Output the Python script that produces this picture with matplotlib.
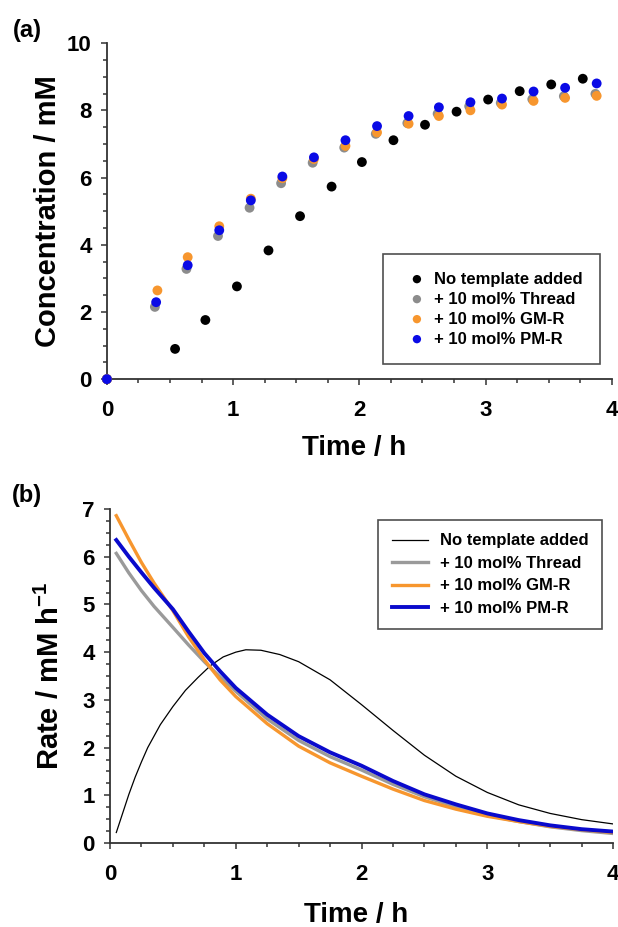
import matplotlib
matplotlib.use("Agg")
import matplotlib.pyplot as plt
from matplotlib.ticker import MultipleLocator

plt.rcParams['font.family'] = ['Liberation Sans', 'DejaVu Sans']
plt.rcParams['font.weight'] = 'bold'
plt.rcParams['mathtext.fontset'] = 'custom'
plt.rcParams['mathtext.rm'] = 'Liberation Sans:bold'
plt.rcParams['mathtext.bf'] = 'Liberation Sans:bold'
plt.rcParams['mathtext.default'] = 'bf'

labels = ['No template added', '+ 10 mol% Thread', '+ 10 mol% GM-R', '+ 10 mol% PM-R']
colors = ['black', '#8c8c8c', '#f7962e', '#0a0ae6']

# (a) concentration vs time
t_none = [0, 0.54, 0.78, 1.03, 1.28, 1.53, 1.78, 2.02, 2.27, 2.52, 2.77, 3.02, 3.27, 3.52, 3.77]
c_none = [0, 0.90, 1.76, 2.76, 3.83, 4.85, 5.73, 6.46, 7.11, 7.57, 7.96, 8.32, 8.57, 8.77, 8.94]
t_thread = [0, 0.38, 0.63, 0.88, 1.13, 1.38, 1.63, 1.88, 2.13, 2.38, 2.62, 2.87, 3.12, 3.37, 3.62, 3.87]
c_thread = [0, 2.15, 3.28, 4.26, 5.10, 5.83, 6.44, 6.89, 7.30, 7.62, 7.90, 8.12, 8.22, 8.33, 8.42, 8.49]
t_gmr = [0, 0.40, 0.64, 0.89, 1.14, 1.39, 1.64, 1.89, 2.14, 2.39, 2.63, 2.88, 3.13, 3.38, 3.63, 3.88]
c_gmr = [0, 2.64, 3.63, 4.55, 5.37, 5.98, 6.55, 6.94, 7.34, 7.60, 7.83, 8.00, 8.17, 8.28, 8.37, 8.43]
t_pmr = [0, 0.39, 0.64, 0.89, 1.14, 1.39, 1.64, 1.89, 2.14, 2.39, 2.63, 2.88, 3.13, 3.38, 3.63, 3.88]
c_pmr = [0, 2.29, 3.39, 4.43, 5.32, 6.03, 6.60, 7.11, 7.53, 7.83, 8.09, 8.24, 8.35, 8.56, 8.67, 8.80]

# (b) rate vs time
tr_none = [0.05, 0.1, 0.15, 0.2, 0.25, 0.3, 0.4, 0.5, 0.6, 0.7, 0.8, 0.9, 1.0, 1.08, 1.2, 1.35,
           1.5, 1.75, 2.0, 2.25, 2.5, 2.75, 3.0, 3.25, 3.5, 3.75, 4.0]
r_none = [0.22, 0.62, 1.02, 1.38, 1.70, 2.00, 2.48, 2.86, 3.20, 3.47, 3.72, 3.90, 4.00, 4.05, 4.04, 3.95,
          3.80, 3.42, 2.90, 2.36, 1.84, 1.40, 1.06, 0.80, 0.62, 0.49, 0.40]
tr = [0.05, 0.15, 0.25, 0.35, 0.5, 0.625, 0.75, 0.875, 1.0, 1.25, 1.5, 1.75, 2.0, 2.25,
      2.5, 2.75, 3.0, 3.25, 3.5, 3.75, 4.0]
r_thread = [6.07, 5.66, 5.29, 4.96, 4.52, 4.15, 3.80, 3.48, 3.18, 2.60, 2.15, 1.81, 1.53, 1.23,
            0.97, 0.76, 0.58, 0.45, 0.34, 0.26, 0.20]
r_gmr = [6.86, 6.36, 5.88, 5.45, 4.87, 4.32, 3.84, 3.42, 3.07, 2.50, 2.03, 1.68, 1.40, 1.13,
         0.89, 0.71, 0.56, 0.45, 0.35, 0.28, 0.22]
r_pmr = [6.35, 6.00, 5.67, 5.35, 4.90, 4.43, 3.98, 3.60, 3.25, 2.69, 2.24, 1.90, 1.62, 1.30,
         1.02, 0.81, 0.62, 0.48, 0.37, 0.29, 0.24]

fig = plt.figure(figsize=(6.18, 9.27), dpi=100)
ax1 = fig.add_axes([0.173, 0.591, 0.817, 0.3625])
ax2 = fig.add_axes([0.178, 0.0906, 0.814, 0.3603])

for ax in (ax1, ax2):
    for side in ('top', 'right'):
        ax.spines[side].set_visible(False)
    for side in ('left', 'bottom'):
        ax.spines[side].set_linewidth(1.3)
        ax.spines[side].set_color('#333333')
    ax.tick_params(which='both', direction='out', color='#333333', width=1.1)
    ax.tick_params(which='major', length=4, labelsize=16)
    ax.tick_params(which='minor', length=3)
    ax.tick_params(axis='x', pad=11)
    ax.tick_params(axis='y', pad=7)
    ax.set_xlim(0, 4)
    ax.xaxis.set_major_locator(MultipleLocator(1))
    ax.xaxis.set_minor_locator(MultipleLocator(0.25))

# panel (a)
series_a = [(t_none, c_none), (t_thread, c_thread), (t_gmr, c_gmr), (t_pmr, c_pmr)]
for (t, c), col, lab in zip(series_a, colors, labels):
    ax1.scatter(t, c, s=50, color=col, edgecolors='none', label=lab, clip_on=False, zorder=3)
ax1.set_ylim(0, 10)
ax1.yaxis.set_major_locator(MultipleLocator(2))
ax1.yaxis.set_minor_locator(MultipleLocator(0.5))
ax1.set_ylabel('Concentration / mM', fontsize=21, fontweight='bold')
ax1.set_xlabel('Time / h', fontsize=20, fontweight='bold')
ax1.yaxis.set_label_coords(-0.117, 0.5)
ax1.xaxis.set_label_coords(0.49, -0.205)
ax1.xaxis.label.set_va('center')
ax1.yaxis.label.set_va('center')
leg1 = ax1.legend(loc='lower right', bbox_to_anchor=(0.976, 0.045), fontsize=12,
                  frameon=True, fancybox=False, borderpad=1.05, labelspacing=0.3,
                  handlelength=2.0, handletextpad=0.0, borderaxespad=0, markerscale=0.85)
leg1.get_frame().set_edgecolor('#222222')
leg1.get_frame().set_linewidth(1.2)

# panel (b)
ax2.plot(tr_none, r_none, color='black', lw=0.9, label=labels[0], zorder=2)
ax2.plot(tr, r_thread, color='#9a9a9a', lw=2.4, label=labels[1], zorder=3)
ax2.plot(tr, r_gmr, color='#f7962e', lw=2.4, label=labels[2], zorder=4)
ax2.plot(tr, r_pmr, color='#0a0acc', lw=2.8, label=labels[3], zorder=5)
ax2.set_ylim(0, 7)
ax2.yaxis.set_major_locator(MultipleLocator(1))
ax2.yaxis.set_minor_locator(MultipleLocator(0.25))
ax2.set_ylabel('Rate / mM h$^{-1}$', fontsize=21, fontweight='bold')
ax2.set_xlabel('Time / h', fontsize=20, fontweight='bold')
ax2.yaxis.set_label_coords(-0.119, 0.5)
ax2.xaxis.set_label_coords(0.49, -0.216)
ax2.xaxis.label.set_va('center')
ax2.yaxis.label.set_va('center')
leg2 = ax2.legend(loc='upper right', bbox_to_anchor=(0.978, 0.967), fontsize=12,
                  frameon=True, fancybox=False, borderpad=0.8, labelspacing=0.45,
                  handlelength=2.2, handletextpad=0.7, borderaxespad=0)
leg2.get_frame().set_edgecolor('#222222')
leg2.get_frame().set_linewidth(1.2)

fig.text(0.044, 0.967, '(a)', fontsize=17, fontweight='bold', ha='center', va='center')
fig.text(0.044, 0.466, '(b)', fontsize=17, fontweight='bold', ha='center', va='center')

fig.savefig('out.png', dpi=100)
